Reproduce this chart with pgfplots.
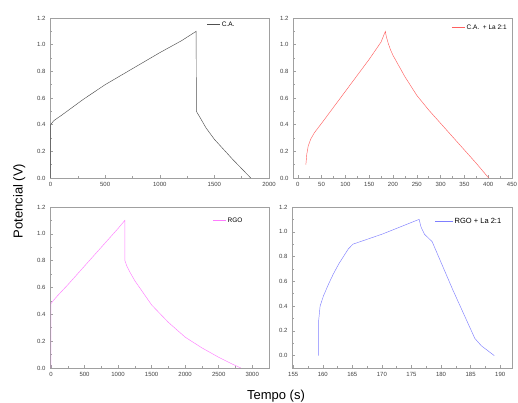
\documentclass[border=0pt]{standalone}
\usepackage{pgfplots}
\pgfplotsset{compat=1.18}
\usepackage{fontspec}
\setmainfont{Liberation Sans}

\definecolor{frame}{HTML}{A0A0A0}
\definecolor{ticktxt}{HTML}{404040}
\definecolor{lineGray}{HTML}{505050}
\definecolor{lineRed}{HTML}{FF6060}
\definecolor{linePink}{HTML}{FF7CFF}
\definecolor{lineBlue}{HTML}{7F7FFF}

\tikzset{key/.style={right, inner sep=1.5pt, text=black, font=\fontsize{6.5}{7.5}\selectfont}}

\pgfplotsset{
  panel/.style={
    scale only axis,
    anchor=south west,
    axis line style={frame, line width=0.6pt},
    tick align=inside,
    xtick pos=bottom, ytick pos=left,
    major tick length=3pt, minor tick length=1.8pt,
    every tick/.style={frame, line width=0.5pt},
    minor tick num=1,
    tick label style={font=\fontsize{6}{7}\selectfont, text=ticktxt},
    /pgf/number format/assume math mode=true,
    /pgf/number format/1000 sep={},
    scaled ticks=false,
    xticklabel style={yshift=-1pt},
    yticklabel style={xshift=-1pt, /pgf/number format/.cd, fixed, fixed zerofill, precision=1},
    ytick={0,0.2,0.4,0.6,0.8,1.0,1.2},
    ymin=0, ymax=1.2,
    every axis plot/.append style={line width=0.45pt},
  },
}

\begin{document}
\begin{tikzpicture}
\useasboundingbox (0pt,0pt) rectangle (518pt,403pt);

% C.A.
\begin{axis}[panel, at={(50pt,225pt)}, width=219pt, height=160pt,
  xmin=-5, xmax=2000, xtick={0,500,1000,1500,2000}]
  \addplot[color=lineGray] coordinates {(0,0) (0,0.40) (30,0.43) (100,0.47) (200,0.53)
    (300,0.59) (500,0.70) (750,0.82) (1000,0.94) (1200,1.03) (1333,1.10)
    (1335,0.50) (1364,0.46) (1424,0.375) (1500,0.29) (1667,0.14) (1833,0.0)};
  \draw[lineGray, line width=0.45pt] (axis description cs:0.717,0.962) -- ++(13pt,0pt)
    node[key] {C.A.};
\end{axis}

% C.A. + La 2:1
\begin{axis}[panel, at={(293pt,225pt)}, width=219pt, height=160pt,
  xmin=-10, xmax=450, xtick={0,50,...,450}]
  \addplot[color=lineRed] coordinates {(17,0.10) (19,0.18) (22,0.24) (27,0.29) (35,0.34)
    (50,0.41) (75,0.53) (100,0.65) (125,0.77) (150,0.89) (175,1.02) (184,1.10)
    (186,1.06) (190,1.01) (195,0.96) (200,0.92) (225,0.76) (250,0.62) (275,0.51)
    (300,0.41) (325,0.31) (350,0.21) (375,0.11) (401,0.0)};
  \draw[lineRed, line width=0.45pt] (axis description cs:0.726,0.944) -- ++(13pt,0pt)
    node[key] {C.A.\ \ + La 2:1};
\end{axis}

% RGO
\begin{axis}[panel, at={(50pt,35pt)}, width=219pt, height=161pt,
  xmin=-15, xmax=3250, xtick={0,500,...,3000}]
  \addplot[color=linePink] coordinates {(0,0) (0,0.48) (30,0.50) (100,0.54) (250,0.62)
    (500,0.76) (750,0.90) (1000,1.04) (1100,1.10) (1102,0.80) (1130,0.76)
    (1170,0.72) (1250,0.65) (1500,0.47) (1750,0.34) (2000,0.23) (2250,0.15)
    (2500,0.08) (2700,0.03) (2830,0.0)};
  \draw[linePink, line width=0.45pt] (axis description cs:0.744,0.919) -- ++(13pt,0pt)
    node[key] {RGO};
\end{axis}

% RGO + La 2:1
\begin{axis}[panel, at={(292pt,35pt)}, width=220pt, height=161pt,
  xmin=154.8, xmax=192, ymin=-0.1, xtick={155,160,...,190}]
  \addplot[color=lineBlue] coordinates {(159.3,0.0) (159.3,0.28) (159.55,0.40)
    (160.1,0.48) (161.0,0.58) (161.8,0.66) (162.7,0.74) (163.5,0.80)
    (164.3,0.86) (165.1,0.90) (170,0.98) (176.3,1.10) (176.6,1.04)
    (177.2,0.98) (178.5,0.92) (182,0.53) (185.7,0.14) (186.8,0.08) (189,0.0)};
  \draw[lineBlue, line width=0.45pt] (axis description cs:0.65,0.912) -- ++(18pt,0pt)
    node[key, font=\fontsize{7.5}{8.5}\selectfont] {RGO + La 2:1};
\end{axis}

\node[rotate=90, anchor=base, font=\fontsize{13}{15}\selectfont]
  at (22.5pt,202pt) {Potencial (V)};
\node[anchor=base, font=\fontsize{13}{15}\selectfont]
  at (276pt,3pt) {Tempo (s)};
\end{tikzpicture}
\end{document}
